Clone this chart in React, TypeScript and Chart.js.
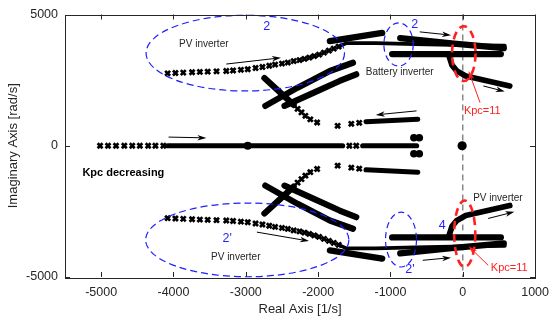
import React, { useEffect, useRef } from 'react';
import { Chart, registerables } from 'chart.js';
Chart.register(...registerables);

type P = [number, number];

// ---------- axes ----------
const xTicks = [-5000, -4000, -3000, -2000, -1000, 0, 1000];
const yTicks = [-5000, 0, 5000];

// ---------- upper-half root-locus branches (lower half = complex conjugates) ----------
// PV inverter branch: distinct markers
const pvMarks: P[] = [
  [-4081, 2759], [-3973, 2770], [-3865, 2786], [-3743, 2801], [-3635, 2812], [-3527, 2823],
  [-3405, 2835], [-3270, 2846], [-3176, 2865], [-3068, 2892], [-2973, 2915], [-2865, 2960],
  [-2770, 2998], [-2676, 3047], [-2595, 3093], [-2500, 3131], [-2419, 3169], [-2338, 3226],
  [-2257, 3264], [-2189, 3309], [-2122, 3359], [-2054, 3416], [-1987, 3472], [-1919, 3548],
  [-1851, 3624], [-1784, 3700], [-1716, 3776],
];
// PV inverter branch: dense continuation to the right
const pvTail: P[] = [[-1716, 3776], [-1608, 3909], [-1203, 3909], [-662, 3871], [14, 3833], [581, 3814]];
// thick arm of the crossing near -1700
const crossArm: P[] = [[-1838, 3985], [-1113, 4300]];
// battery inverter bands
const batteryUpper: P[] = [[-865, 4099], [-122, 3890], [568, 3719]];
const batteryLower: P[] = [[-977, 3491], [527, 3491]];
// branch bending through Kpc = 11
const kpcCurve: P[] = [[-189, 3416], [-149, 3074], [-81, 2846], [41, 2657], [284, 2505], [649, 2277]];
// two parallel thick bands
const bandC1: P[] = [[-2730, 1518], [-2284, 2213], [-1838, 2846], [-1518, 3161]];
const bandC2: P[] = [[-2465, 1518], [-2059, 2023], [-1703, 2467], [-1473, 2721]];
// branch crossing the bands and going to ~1000 rad/s
const strokeB: P[] = [[-2743, 2581], [-2338, 1556]];
const branchBMarks: P[] = [
  [-2284, 1404], [-2230, 1271], [-2176, 1139], [-2108, 1006], [-2014, 884],
  [-1730, 759], [-1541, 835], [-1432, 873],
];
const branchBBand: P[] = [[-1338, 918], [-622, 1013]];
// real-axis branch
const realMarks: P[] = [
  [-5015, 0], [-4905, 0], [-4795, 0], [-4680, 0], [-4570, 0], [-4465, 0], [-4350, 0],
  [-4250, 0], [-4140, 0], [-1568, 0], [-1473, 0],
];
const realBand1: P[] = [[-4080, 0], [-1662, 0]];
const realBand2: P[] = [[-1383, 0], [-639, 0]];
const bigBlobs: P[] = [[-2973, 0], [-9, 0]];
const pairBlobs: P[] = [[-676, 304], [-601, 304]];

// ---------- annotations (data coordinates) ----------
const BLUE = '#1f1fff';
const RED = '#ff2020';
const TXT = '#262626';
const FONT = '"Liberation Sans", Arial, Helvetica, sans-serif';

const ellipses = [
  { cx: -3007, cy: 3529, rx: 1372, ry: 1442, color: BLUE, w: 1.2, dash: [7, 4] },
  { cx: -888, cy: 3860, rx: 203, ry: 824, color: BLUE, w: 1.2, dash: [6, 4] },
  { cx: -2980, cy: -3586, rx: 1405, ry: 1404, color: BLUE, w: 1.2, dash: [7, 4] },
  { cx: -854, cy: -3575, rx: 214, ry: 1044, color: BLUE, w: 1.2, dash: [6, 4] },
  { cx: 14, cy: 3510, rx: 162, ry: 1044, color: RED, w: 2.6, dash: [8, 5] },
  { cx: 27, cy: -3351, rx: 146, ry: 1265, color: RED, w: 2.6, dash: [8, 5] },
];
const arrows = [
  { from: [-3270, 3112], to: [-2514, 3351], color: '#000' },
  { from: [-4068, 330], to: [-3545, 300], color: '#000' },
  { from: [-595, 4338], to: [-162, 4213], color: '#000' },
  { from: [-639, 1328], to: [-1203, 1176], color: '#000' },
  { from: [284, 2277], to: [581, 2068], color: '#000' },
  { from: [-2847, -3290], to: [-2126, -3632], color: '#000' },
  { from: [-554, -4364], to: [-162, -4262], color: '#000' },
  { from: [351, -2770], to: [713, -2518], color: '#000' },
  { from: [239, 1643], to: [81, 2846], color: RED },
  { from: [351, -4554], to: [81, -3833], color: RED },
];
const labels = [
  { t: 'PV inverter', x: -3581, y: 3860, color: TXT, size: 10, bold: false },
  { t: '2', x: -2710, y: 4554, color: BLUE, size: 12.5, bold: false },
  { t: '2', x: -666, y: 4618, color: BLUE, size: 12.5, bold: false },
  { t: 'Battery inverter', x: -872, y: 2797, color: TXT, size: 10, bold: false },
  { t: 'Kpc=11', x: 270, y: 1328, color: RED, size: 11, bold: false },
  { t: 'Kpc decreasing', x: -4693, y: -1036, color: '#000', size: 11, bold: true },
  { t: "2'", x: -3257, y: -3529, color: BLUE, size: 12.5, bold: false },
  { t: 'PV inverter', x: -3139, y: -4250, color: TXT, size: 10, bold: false },
  { t: 'PV inverter', x: 486, y: -1992, color: TXT, size: 10, bold: false },
  { t: '4', x: -284, y: -3047, color: BLUE, size: 12.5, bold: false },
  { t: "2'", x: -730, y: -4706, color: BLUE, size: 12.5, bold: false },
  { t: 'Kpc=11', x: 642, y: -4668, color: RED, size: 11, bold: false },
];

// ---------- dataset helpers ----------
const conj = (pts: P[]): P[] => pts.map(([x, y]) => [x, -y] as P);
const toXY = (pts: P[]) => pts.map(([x, y]) => ({ x, y }));

function band(pts: P[], w: number) {
  return {
    data: toXY(pts),
    showLine: true,
    borderColor: '#000',
    backgroundColor: '#000',
    borderWidth: w,
    borderCapStyle: 'round',
    borderJoinStyle: 'round',
    pointRadius: 0,
    pointHoverRadius: 0,
    tension: 0,
  };
}
function marks(pts: P[]) {
  return {
    data: toXY(pts),
    showLine: false,
    pointStyle: 'crossRot',
    pointRadius: 3.5,
    pointHoverRadius: 3.5,
    pointBorderWidth: 2.7,
    pointBorderColor: '#000',
    pointBackgroundColor: '#000',
  };
}
function blobs(pts: P[], r: number) {
  return {
    data: toXY(pts),
    showLine: false,
    pointStyle: 'circle',
    pointRadius: r,
    pointHoverRadius: r,
    pointBorderWidth: 0,
    pointBorderColor: '#000',
    pointBackgroundColor: '#000',
  };
}

function buildDatasets() {
  const ds: any[] = [];
  const halves: ((p: P[]) => P[])[] = [(p) => p, conj];
  for (const h of halves) {
    ds.push(marks(h(pvMarks)));
    ds.push(band(h(pvTail), 3.8));
    ds.push(band(h(crossArm), 6.2));
    ds.push(band(h(batteryUpper), 6.2));
    ds.push(band(h(batteryLower), 6.2));
    ds.push(band(h(kpcCurve), 5.8));
    ds.push(band(h(bandC1), 6.2));
    ds.push(band(h(bandC2), 6.2));
    ds.push(band(h(strokeB), 6.2));
    ds.push(marks(h(branchBMarks)));
    ds.push(band(h(branchBBand), 5));
    ds.push(blobs(h(pairBlobs), 3.8));
  }
  ds.push(marks(realMarks));
  ds.push(band(realBand1, 5.2));
  ds.push(band(realBand2, 5.2));
  ds.push(blobs([bigBlobs[0]], 4));
  ds.push(blobs([bigBlobs[1]], 4.6));
  return ds;
}

function drawArrow(ctx: CanvasRenderingContext2D, x1: number, y1: number, x2: number, y2: number, color: string) {
  const ang = Math.atan2(y2 - y1, x2 - x1);
  const L = 9, W = 2.8, N = 2.5;
  ctx.save();
  ctx.strokeStyle = color;
  ctx.fillStyle = color;
  ctx.lineWidth = 1;
  ctx.setLineDash([]);
  ctx.beginPath();
  ctx.moveTo(x1, y1);
  ctx.lineTo(x2 - Math.cos(ang) * (L - N), y2 - Math.sin(ang) * (L - N));
  ctx.stroke();
  ctx.translate(x2, y2);
  ctx.rotate(ang);
  ctx.beginPath();
  ctx.moveTo(0, 0);
  ctx.lineTo(-L, -W);
  ctx.lineTo(-L + N, 0);
  ctx.lineTo(-L, W);
  ctx.closePath();
  ctx.fill();
  ctx.restore();
}

const zeroLinePlugin = {
  id: 'zeroLine',
  beforeDatasetsDraw(chart: any) {
    const { ctx, chartArea, scales } = chart;
    const x = scales.x.getPixelForValue(0);
    ctx.save();
    ctx.strokeStyle = '#777';
    ctx.lineWidth = 1.3;
    ctx.setLineDash([6, 4]);
    ctx.beginPath();
    ctx.moveTo(x, chartArea.top);
    ctx.lineTo(x, chartArea.bottom);
    ctx.stroke();
    ctx.restore();
  },
};

const annotationPlugin = {
  id: 'annotations',
  afterDatasetsDraw(chart: any) {
    const { ctx, scales } = chart;
    const xs = scales.x, ys = scales.y;
    const px = (v: number) => xs.getPixelForValue(v);
    const py = (v: number) => ys.getPixelForValue(v);
    ctx.save();
    for (const e of ellipses) {
      const cx = px(e.cx), cy = py(e.cy);
      const rx = Math.abs(px(e.cx + e.rx) - cx), ry = Math.abs(py(e.cy + e.ry) - cy);
      ctx.strokeStyle = e.color;
      ctx.lineWidth = e.w;
      ctx.setLineDash(e.dash);
      ctx.beginPath();
      ctx.ellipse(cx, cy, rx, ry, 0, 0, Math.PI * 2);
      ctx.stroke();
    }
    ctx.setLineDash([]);
    for (const a of arrows) {
      drawArrow(ctx, px(a.from[0]), py(a.from[1]), px(a.to[0]), py(a.to[1]), a.color);
    }
    ctx.textAlign = 'center';
    ctx.textBaseline = 'middle';
    for (const l of labels) {
      ctx.font = `${l.bold ? 'bold ' : ''}${l.size}px ${FONT}`;
      ctx.fillStyle = l.color;
      ctx.fillText(l.t, px(l.x), py(l.y));
    }
    ctx.restore();
  },
};

const framePlugin = {
  id: 'frame',
  afterDraw(chart: any) {
    const { ctx, chartArea, scales } = chart;
    const { left, right, top, bottom } = chartArea;
    ctx.save();
    ctx.strokeStyle = TXT;
    ctx.lineWidth = 1;
    ctx.setLineDash([]);
    ctx.strokeRect(Math.round(left) + 0.5, Math.round(top) + 0.5, Math.round(right - left), Math.round(bottom - top));
    const T = 5;
    ctx.beginPath();
    for (const v of xTicks) {
      const x = Math.round(scales.x.getPixelForValue(v)) + 0.5;
      ctx.moveTo(x, bottom); ctx.lineTo(x, bottom - T);
      ctx.moveTo(x, top); ctx.lineTo(x, top + T);
    }
    for (const v of yTicks) {
      const y = Math.round(scales.y.getPixelForValue(v)) + 0.5;
      ctx.moveTo(left, y); ctx.lineTo(left + T, y);
      ctx.moveTo(right, y); ctx.lineTo(right - T, y);
    }
    ctx.stroke();
    ctx.restore();
  },
};

export default function App() {
  const ref = useRef<HTMLCanvasElement>(null);
  useEffect(() => {
    if (!ref.current) return;
    const chart = new Chart(ref.current, {
      type: 'scatter',
      data: { datasets: buildDatasets() },
      options: {
        animation: false,
        responsive: false,
        devicePixelRatio: 1,
        events: [],
        layout: { padding: { top: 13, right: 14, left: 0, bottom: 0 } },
        plugins: { legend: { display: false }, tooltip: { enabled: false } },
        scales: {
          x: {
            type: 'linear',
            min: -5500,
            max: 1000,
            grid: { display: false, drawTicks: false },
            border: { display: false },
            afterBuildTicks: (s: any) => { s.ticks = xTicks.map((v) => ({ value: v })); },
            afterFit: (s: any) => { s.height = 43; },
            ticks: {
              font: { family: FONT, size: 12.5 },
              color: TXT,
              padding: 8,
              maxRotation: 0,
              autoSkip: false,
              callback: (v: any) => String(v),
            },
            title: {
              display: true,
              text: 'Real Axis [1/s]',
              font: { family: FONT, size: 13 },
              color: TXT,
              padding: { top: 0, bottom: 3 },
            },
          },
          y: {
            type: 'linear',
            min: -5000,
            max: 5000,
            grid: { display: false, drawTicks: false },
            border: { display: false },
            afterBuildTicks: (s: any) => { s.ticks = yTicks.map((v) => ({ value: v })); },
            afterFit: (s: any) => { s.width = 65; },
            ticks: {
              font: { family: FONT, size: 12.5 },
              color: TXT,
              padding: 7,
              autoSkip: false,
              callback: (v: any) => String(v),
            },
            title: {
              display: true,
              text: 'Imaginary Axis [rad/s]',
              font: { family: FONT, size: 13 },
              color: TXT,
              padding: { top: 6, bottom: 0 },
            },
          },
        },
      } as any,
      plugins: [zeroLinePlugin, annotationPlugin, framePlugin],
    });
    return () => chart.destroy();
  }, []);
  return (
    <div style={{ position: 'absolute', left: 0, top: 0, width: 557, height: 320, background: '#fff' }}>
      <canvas ref={ref} width={557} height={320} style={{ display: 'block', width: 557, height: 320 }} />
    </div>
  );
}
